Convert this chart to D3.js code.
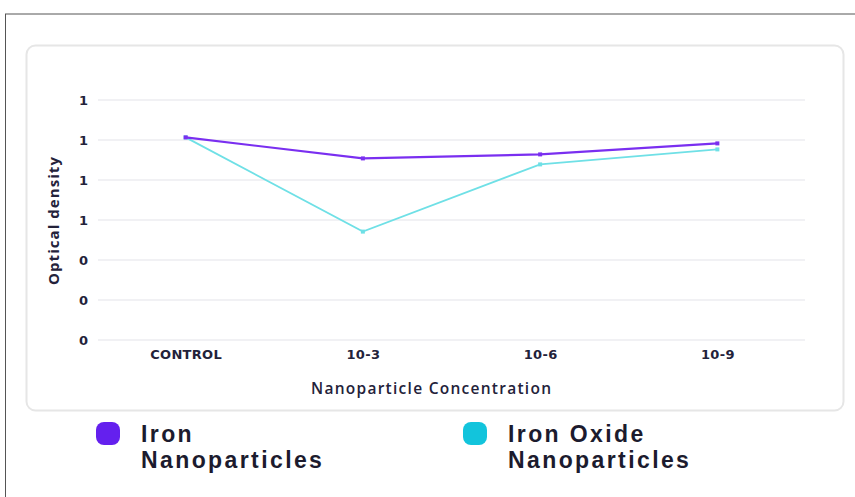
<!DOCTYPE html>
<html><head><meta charset="utf-8">
<script src="https://cdn.jsdelivr.net/npm/d3@7"></script>
<style>body{margin:0;background:#fff}svg{display:block}</style>
</head><body>
<script>
const categories = ["CONTROL", "10-3", "10-6", "10-9"];
const ironValues = [1.013, 0.908, 0.928, 0.983];
const ironOxideValues = [1.013, 0.542, 0.878, 0.953];
const yTicks = [0, 0.2, 0.4, 0.6, 0.8, 1.0, 1.2];
const legendLines = [["Iron", "Nanoparticles"], ["Iron Oxide", "Nanoparticles"]];
const lineColors = ["#7a2ff0", "#6fe0e6"];
const legendColors = ["#6420ee", "#12c4dc"];

const W = 855, H = 497;
const svg = d3.select("body").append("svg").attr("width", W).attr("height", H);
const font = "'Open Sans', Lato, sans-serif";
const tickFont = "'DejaVu Sans', sans-serif";
const legendFont = "'Liberation Sans', Arial, sans-serif";
const textColor = "#23223a";

// outer frame lines
svg.append("line").attr("x1", 5).attr("x2", W).attr("y1", 14).attr("y2", 14).attr("stroke", "#555").attr("stroke-width", 1);
svg.append("line").attr("x1", 5.5).attr("x2", 5.5).attr("y1", 14).attr("y2", H).attr("stroke", "#555").attr("stroke-width", 1);

// card
svg.append("rect").attr("x", 26.5).attr("y", 45.5).attr("width", 817).attr("height", 365)
  .attr("rx", 9).attr("fill", "#fff").attr("stroke", "#e6e6e6").attr("stroke-width", 2);

const x = d3.scalePoint().domain(categories).range([97, 806]).padding(0.5);
const y = d3.scaleLinear().domain([0, 1.2]).range([340, 100]);

// grid
svg.append("g").selectAll("line").data(yTicks).join("line")
  .attr("x1", 98).attr("x2", 805)
  .attr("y1", d => y(d)).attr("y2", d => y(d))
  .attr("stroke", "#ececf0").attr("stroke-width", 1.5);

// y axis
const yAxis = svg.append("g").attr("transform", "translate(88,0)")
  .call(d3.axisLeft(y).tickValues(yTicks).tickFormat(d3.format(".0f")).tickSize(0).tickPadding(0));
yAxis.select(".domain").remove();
yAxis.selectAll("text").attr("font-family", tickFont).attr("font-weight", 700).attr("font-size", 13).attr("fill", textColor).attr("dy", "0.36em");

// x axis
const xAxis = svg.append("g").attr("transform", "translate(0,350)")
  .call(d3.axisBottom(x).tickSize(0).tickPadding(0));
xAxis.select(".domain").remove();
xAxis.selectAll("text").attr("font-family", tickFont).attr("font-weight", 700).attr("font-size", 13)
  .attr("letter-spacing", 0.3).attr("fill", textColor).attr("dy", "0.72em");

// axis titles
svg.append("text").attr("x", 431).attr("y", 394).attr("text-anchor", "middle")
  .attr("font-family", font).attr("font-weight", 600).attr("font-size", 15.5).attr("fill", textColor)
  .attr("textLength", 240).attr("lengthAdjust", "spacing")
  .text("Nanoparticle Concentration");
svg.append("text").attr("transform", "translate(59,221) rotate(-90)").attr("text-anchor", "middle")
  .attr("font-family", font).attr("font-weight", 700).attr("font-size", 15).attr("fill", textColor)
  .attr("textLength", 128).attr("lengthAdjust", "spacing")
  .text("Optical density");

// lines
const line = d3.line().x((d, i) => x(categories[i])).y(d => y(d));
[[ironOxideValues, 1], [ironValues, 0]].forEach(([vals, idx]) => {
  svg.append("path").datum(vals).attr("d", line).attr("fill", "none")
    .attr("stroke", lineColors[idx]).attr("stroke-width", idx === 0 ? 2.2 : 1.8);
  svg.append("g").selectAll("rect").data(vals).join("rect")
    .attr("x", (d, i) => x(categories[i]) - 2).attr("y", d => y(d) - 2)
    .attr("width", 4).attr("height", 4).attr("fill", lineColors[idx]);
});

// legend
const legendX = [96, 463];
legendLines.forEach((parts, i) => {
  const g = svg.append("g").attr("transform", `translate(${legendX[i]},0)`);
  g.append("rect").attr("x", 0).attr("y", 422).attr("width", 24).attr("height", 23).attr("rx", 8).attr("fill", legendColors[i]);
  parts.forEach((p, j) => {
    g.append("text").attr("x", 45).attr("y", 441.5 + j * 26.5)
      .attr("font-family", legendFont).attr("font-weight", 700).attr("font-size", 23)
      .attr("letter-spacing", 2.4).attr("fill", "#1c1b2e").text(p);
  });
});
</script>
</body></html>
